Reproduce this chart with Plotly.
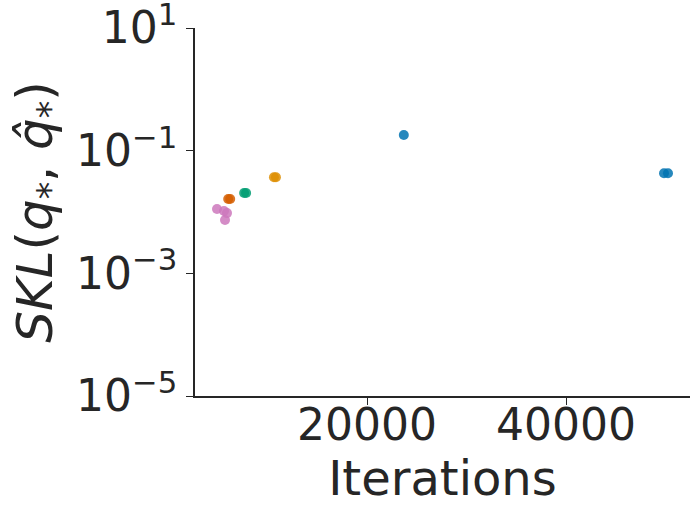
import plotly.graph_objects as go

# data (iterations, SKL)
blue_x = [23700, 49850, 50250]
blue_y = [0.18, 0.043, 0.043]
orange_x = [10650, 10850]
orange_y = [0.037, 0.037]
green_x = [7650, 7850]
green_y = [0.0204, 0.0204]
red_x = [6050, 6250]
red_y = [0.0163, 0.0163]
pink_x = [4925, 5630, 5930, 5730]
pink_y = [0.0112, 0.0104, 0.0096, 0.0074]

y_tickvals = [1e-5, 1e-3, 1e-1, 1e1]
y_ticktext = ["10<sup>−5</sup>", "10<sup>−3</sup>", "10<sup>−1</sup>", "10<sup>1</sup>"]
x_tickvals = [20000, 40000]
x_ticktext = ["20000", "40000"]

series = [
    (blue_x, blue_y, "#0173b2"),
    (orange_x, orange_y, "#de8f05"),
    (green_x, green_y, "#029e73"),
    (red_x, red_y, "#d55e00"),
    (pink_x, pink_y, "#cc78bc"),
]

fig = go.Figure()
for xs, ys, c in series:
    fig.add_trace(go.Scatter(x=xs, y=ys, mode="markers",
                             marker=dict(size=10, color=c, opacity=0.85, line=dict(width=0)),
                             showlegend=False))

axis_color = "#262626"
fig.update_layout(
    width=700, height=519,
    margin=dict(l=195, r=10, t=28, b=123),
    plot_bgcolor="white", paper_bgcolor="white",
    font=dict(family="DejaVu Sans", size=44, color=axis_color),
    xaxis=dict(range=[2714, 52462], tickvals=x_tickvals, ticktext=x_ticktext,
               showgrid=False, zeroline=False, showline=True, linecolor=axis_color, linewidth=1.5,
               ticks="outside", ticklen=7, tickcolor=axis_color, tickfont=dict(size=44),
               ticklabelstandoff=-18,
               title=dict(text="Iterations", standoff=4, font=dict(size=48)), automargin=False),
    yaxis=dict(type="log", range=[-5, 1.0005], tickvals=y_tickvals, ticktext=y_ticktext,
               showgrid=False, zeroline=False, showline=True, linecolor=axis_color, linewidth=1.5,
               ticks="outside", ticklen=7, tickcolor=axis_color, tickfont=dict(size=44),
               ticklabeloverflow="allow",
               title=dict(text="<i>SKL</i>(<i>q</i><sub>*</sub>, <i>q̂</i><sub>*</sub>)",
                          standoff=8, font=dict(size=50)),
               automargin=False),
)

fig.write_html("out.html",
               config={"displayModeBar": False},
               post_script="document.body.style.margin='0';document.body.style.overflow='hidden';")
